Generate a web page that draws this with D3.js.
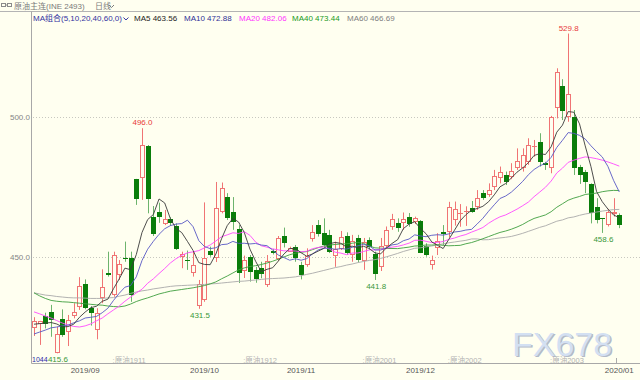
<!DOCTYPE html>
<html><head><meta charset="utf-8">
<script src="https://cdn.jsdelivr.net/npm/d3@7/dist/d3.min.js"></script>
<style>
html,body{margin:0;padding:0;background:#fffff0;}
svg{display:block;}
text{font-family:"Liberation Sans",Arial,"Noto Sans CJK SC",sans-serif;}
</style></head><body>
<svg id="chart" width="640" height="380"></svg>
<script>
// ---- data ----
const opens  = [424.5,425.9,428.9,430.3,415.8,428.0,423.3,428.9,432.0,440.4,431.7,423.9,435.3,444.2,436.4,443.6,449.5,449.6,477.8,478.1,
                489.7,464.4,466.2,461.8,463.5,461.1,450.1,448.8,444.2,432.5,434.7,452.3,449.6,466.1,471.3,465.9,460.0,445.0,450.1,445.2,
                446.2,440.0,452.3,449.3,457.5,451.9,453.5,447.3,447.0,456.3,461.5,458.6,458.0,450.3,452.9,457.5,450.7,456.7,448.5,456.0,
                451.1,446.3,453.8,460.7,462.0,462.3,464.4,462.6,463.0,453.9,447.3,453.1,458.8,458.9,463.2,465.2,466.2,467.4,467.8,472.8,
                472.2,475.1,478.1,479.3,478.7,481.7,481.7,484.0,489.2,491.2,483.5,481.7,503.1,511.1,500.1,500.1,482.3,480.5,476.1,467.8,
                463.9,461.4,465.4,465.0];
const highs  = [428.5,427.2,430.1,432.9,425.1,431.3,429.3,433.5,442.8,442.0,432.5,431.7,445.6,451.9,451.9,448.9,455.5,451.9,477.9,496.0,
                490.0,468.2,469.4,466.8,464.2,462.0,451.9,452.3,451.9,441.8,469.5,453.7,476.8,476.6,472.8,471.4,461.4,450.5,450.7,446.5,
                448.3,450.7,452.9,457.5,460.5,453.7,454.3,448.3,453.1,461.4,463.2,463.8,459.7,455.5,459.3,458.8,457.9,457.9,456.8,457.0,
                451.9,456.8,460.9,465.4,463.8,465.9,465.7,464.4,463.2,454.9,450.5,458.5,461.4,469.7,469.8,468.9,468.1,470.0,473.9,473.9,
                476.3,481.1,482.3,480.5,483.5,488.8,488.8,492.4,491.8,494.2,484.0,500.4,517.4,513.5,529.8,502.5,482.9,481.1,476.3,471.0,
                463.9,467.2,471.0,465.6];
const lows   = [421.8,418.6,424.5,421.5,415.6,421.5,418.2,428.1,431.1,431.3,425.5,420.6,433.5,443.0,435.8,441.8,448.3,434.0,468.6,470.4,
                465.6,457.5,462.2,461.4,461.1,452.5,446.0,445.4,443.0,431.5,434.0,450.1,448.2,465.6,463.2,459.7,440.7,442.5,441.2,440.8,
                442.4,439.3,450.9,448.6,453.4,451.8,448.3,442.0,446.5,455.5,457.3,453.6,451.4,446.5,452.5,450.7,448.3,448.2,445.4,452.5,
                441.8,445.0,453.1,459.7,459.0,459.7,460.8,461.8,451.4,450.1,445.5,450.7,454.3,457.0,461.2,460.8,461.1,465.8,466.8,470.4,
                471.5,473.9,476.3,475.7,477.8,481.1,480.5,482.9,485.8,482.3,481.1,479.9,499.5,498.9,498.3,479.3,476.1,472.8,462.0,462.0,
                458.6,460.9,464.4,460.3];
const closes = [427.3,427.0,426.1,427.5,422.5,422.1,427.5,430.5,439.7,431.9,429.9,430.1,439.2,443.6,450.7,447.4,449.2,436.4,470.6,490.0,
                470.6,458.2,464.2,463.5,462.0,452.8,451.1,448.5,447.2,440.4,449.5,450.7,467.4,474.5,463.9,462.5,444.2,448.8,444.7,442.2,
                443.8,448.5,451.6,456.7,454.9,453.1,449.5,443.4,450.5,458.9,458.2,454.3,451.9,452.7,457.3,451.6,455.8,448.9,455.5,453.4,
                443.8,453.9,459.5,463.5,460.3,463.5,461.9,463.8,451.6,450.7,448.9,455.8,458.1,468.0,467.0,465.8,466.6,466.2,471.0,471.0,
                473.9,478.9,480.5,476.9,480.8,484.4,486.4,490.0,489.7,484.0,482.9,500.1,516.2,502.3,508.2,481.7,479.3,476.9,465.8,463.2,
                463.6,466.1,466.2,461.3];

// moving-average values before a full window exists
const ma5Head  = [426.0,426.2,426.4,426.6];
const ma10Head = [422.5,423.2,423.9,424.7,425.0,425.4,425.7,426.5,427.2];
const ma20Head = [430.4,429.7,428.9,428.2,427.3,426.4,425.7,425.2,425.0,425.4,426.1,427.2,428.2,429.7,431.1,432.5,434.2,435.7,437.2];
const ma40Head = [437.2,436.1,435.2,434.5,434.2,434.0,433.9,433.7,433.5,433.3,433.1,432.9,432.8,432.5,432.3,432.2,432.5,433.2,434.1,434.8,
                  435.4,436.1,436.8,437.3,437.8,438.1,438.4,438.7,439.0,439.4,439.8,440.4,441.1,442.2,443.2,444.3,445.4,446.1,446.6];
const ma60Head = [437.2,436.8,436.4,436.2,435.9,435.7,435.5,435.4,435.4,435.3,435.2,435.2,435.2,435.4,435.5,436.0,436.4,437.0,437.5,437.9,
                  438.2,438.6,438.9,439.2,439.5,439.7,439.8,439.9,440.0,440.1,440.2,440.4,440.5,440.7,440.9,441.1,441.3,441.4,441.6,441.8,
                  442.0,442.2,442.3,442.4,442.5,442.7,442.9,443.3,443.8,444.2,444.7,445.2,445.7,446.2,446.6,447.1,447.5,448.0,448.4];

const maPeriods = [5, 10, 20, 40, 60];
const maNames   = ["MA5", "MA10", "MA20", "MA40", "MA60"];
const maLast    = [463.56, 472.88, 482.06, 473.44, 466.69];
const yTicks    = [450, 500];
const monthLabels = ["2019/09", "2019/10", "2019/11", "2019/12", "2020/01"];
const monthIdx    = [9, 30, 47, 68, 103];
const contractLabels = [":原油1911", ":原油1912", ":原油2001", ":原油2002", ":原油2003"];
const contractIdx    = [14, 37, 58, 73, 91];
const highMarkIdx = [19, 94];
const lowMarkIdx  = [4, 29, 60, 100];

// ---- styles ----
const BG = "#fffff0";
const UP = "#f07474", DOWN = "#0a7d0a", DOWN_WICK = "#6db46d";
const maColors = ["#3a3a3a", "#5858c4", "#ff48ff", "#3e9e3e", "#a9a9a9"];
const legendColors = ["#222222", "#2f2f96", "#ff33ff", "#229a22", "#808080"];

const svg = d3.select("#chart");
const N = closes.length;
const heads = [ma5Head, ma10Head, ma20Head, ma40Head, ma60Head];
const maSeries = maPeriods.map((p, k) =>
  closes.map((c, i) => i < p - 1 ? heads[k][i] : d3.mean(closes.slice(i - p + 1, i + 1))));

const x = d3.scalePoint().domain(d3.range(N)).range([34, 619.3]);
const y = d3.scaleLinear().domain([450, 500]).range([257, 117]);

svg.append("rect").attr("width", 640).attr("height", 380).attr("fill", BG);

// frame
svg.append("line").attr("x1", 0).attr("x2", 640).attr("y1", 11.5).attr("y2", 11.5).attr("stroke", "#b4b4b4");
svg.append("line").attr("x1", 31.5).attr("x2", 31.5).attr("y1", 11.5).attr("y2", 363.5).attr("stroke", "#a8a8a8");
svg.append("line").attr("x1", 31.5).attr("x2", 640).attr("y1", 363.5).attr("y2", 363.5).attr("stroke", "#a8a8a8");

// y grid + labels
svg.selectAll(".grid").data(yTicks).join("line")
  .attr("x1", 33).attr("x2", 640)
  .attr("y1", d => Math.round(y(d)) + 0.5).attr("y2", d => Math.round(y(d)) + 0.5)
  .attr("stroke", "#c8c8c0").attr("stroke-dasharray", "1,2");
svg.selectAll(".ylab").data(yTicks).join("text")
  .attr("x", 30).attr("y", d => y(d) + 3).attr("text-anchor", "end")
  .attr("font-size", 8).attr("fill", "#858585").text(d => d.toFixed(1));

// contract labels
svg.selectAll(".ctr").data(contractLabels).join("text")
  .attr("x", (d, i) => x(contractIdx[i]) - 1).attr("y", 362.5)
  .attr("font-size", 7.5).attr("fill", "#b2b2b2").text(d => d);

// watermark
const wm = svg.append("g").attr("font-size", 34).attr("font-family", "Liberation Sans, Arial, sans-serif");
wm.append("text").attr("x", 513.5).attr("y", 357).attr("fill", "#b3bac8").text("FX678");
wm.append("text").attr("x", 512).attr("y", 355.5).attr("fill", "#d3e0f2").text("FX678");

// candles
const data = d3.range(N).map(i => ({i, o: opens[i], h: highs[i], l: lows[i], c: closes[i]}));
const cg = svg.append("g");
cg.selectAll("g").data(data).join("g").each(function (d) {
  const g = d3.select(this);
  const cx = Math.round(x(d.i));
  const up = d.c >= d.o;
  const yT = Math.round(y(Math.max(d.o, d.c))), yB = Math.round(y(Math.min(d.o, d.c)));
  const yH = y(d.h), yL = y(d.l);
  if (up) {
    g.append("line").attr("x1", cx + 0.5).attr("x2", cx + 0.5).attr("y1", yH).attr("y2", yT).attr("stroke", UP);
    g.append("line").attr("x1", cx + 0.5).attr("x2", cx + 0.5).attr("y1", yB).attr("y2", yL).attr("stroke", UP);
    if (yB - yT >= 2) {
      g.append("rect").attr("x", cx - 1.5).attr("y", yT + 0.5).attr("width", 4).attr("height", yB - yT - 1)
        .attr("fill", BG).attr("stroke", UP);
    } else {
      g.append("rect").attr("x", cx - 2).attr("y", yT).attr("width", 5).attr("height", Math.max(1, yB - yT)).attr("fill", UP);
    }
  } else {
    g.append("line").attr("x1", cx + 0.5).attr("x2", cx + 0.5).attr("y1", yH).attr("y2", yL).attr("stroke", DOWN_WICK);
    g.append("rect").attr("x", cx - 2).attr("y", yT).attr("width", 5).attr("height", Math.max(1, yB - yT)).attr("fill", DOWN);
  }
});

// moving averages
const line = d3.line().x((v, i) => x(i)).y(v => y(v));
[4, 3, 2, 1, 0].forEach(k => {
  svg.append("path").attr("d", line(maSeries[k])).attr("fill", "none")
    .attr("stroke", maColors[k]).attr("stroke-width", 0.9);
});

// high / low markers
svg.selectAll(".hm").data(highMarkIdx).join("text")
  .attr("x", i => x(i) + 0.5).attr("y", i => y(highs[i]) - 3).attr("text-anchor", "middle")
  .attr("font-size", 8).attr("fill", "#e83a3a").text(i => highs[i].toFixed(1));
svg.append("text").attr("x", 32).attr("y", 362).attr("font-size", 7).attr("fill", "#2a2aa8").text("1044");
svg.selectAll(".lm").data(lowMarkIdx).join("text")
  .attr("x", i => x(i) + 1.2).attr("y", i => y(lows[i]) + 9).attr("text-anchor", "middle")
  .attr("font-size", 8).attr("fill", "#3a983a").text(i => lows[i].toFixed(1));

// x axis labels
svg.selectAll(".xl").data(monthLabels).join("text")
  .attr("x", (d, i) => x(monthIdx[i])).attr("y", 372.5).attr("text-anchor", "middle")
  .attr("font-size", 8).attr("fill", "#555").text(d => d);
svg.append("line").attr("x1", Math.round(x(monthIdx[4])) - 2.5).attr("x2", Math.round(x(monthIdx[4])) - 2.5)
  .attr("y1", 358).attr("y2", 363).attr("stroke", "#aaa");

// header row 1
const h1 = svg.append("g");
h1.append("rect").attr("x", 1.5).attr("y", 3.5).attr("width", 4).attr("height", 3).attr("fill", "none").attr("stroke", "#8a8a8a");
h1.append("rect").attr("x", 7.5).attr("y", 3.5).attr("width", 4).attr("height", 3).attr("fill", "none").attr("stroke", "#8a8a8a");
h1.append("line").attr("x1", 5.5).attr("x2", 7.5).attr("y1", 5).attr("y2", 5).attr("stroke", "#8a8a8a");
h1.append("text").attr("x", 14).attr("y", 9).attr("font-size", 8).attr("fill", "#7a7a7a").text("原油主连(INE 2493)");
h1.append("text").attr("x", 95).attr("y", 9).attr("font-size", 8).attr("fill", "#7a7a7a").text("日线");
h1.append("path").attr("d", "M109,5 L111.5,7.5 L114,5").attr("fill", "none").attr("stroke", "#7a7a7a");

// header row 2 (MA legend)
const lg = svg.append("g").attr("font-size", 8);
const t0 = lg.append("text").attr("x", 33).attr("y", 21).attr("fill", "#3232a0").text("MA组合(" + maPeriods.join(",") + ",0)");
const w0 = t0.node().getComputedTextLength();
lg.append("path").attr("d", `M${33 + w0 + 1.5},17.5 L${33 + w0 + 4},20 L${33 + w0 + 6.5},17.5`).attr("fill", "none").attr("stroke", "#3232a0");
const legX = [134, 184, 239, 292, 347];
lg.selectAll(".ma").data(maNames).join("text")
  .attr("x", (d, i) => legX[i]).attr("y", 21).attr("fill", (d, i) => legendColors[i])
  .text((d, i) => d + " " + maLast[i].toFixed(2));
</script>
</body></html>
